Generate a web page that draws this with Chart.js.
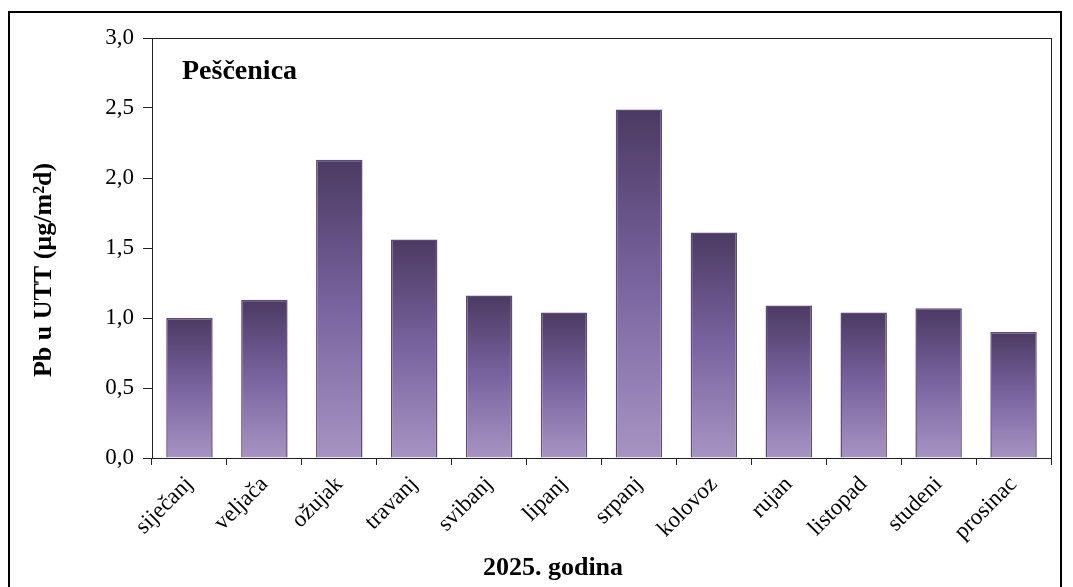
<!DOCTYPE html>
<html>
<head>
<meta charset="utf-8">
<script src="https://cdn.jsdelivr.net/npm/chart.js@4.4.1/dist/chart.umd.min.js"></script>
<style>
  html, body { margin: 0; padding: 0; background: #fff; }
  #wrap { width: 1073px; height: 587px; position: relative; }
</style>
</head>
<body>
<div id="wrap"><canvas id="c" width="1073" height="587"></canvas></div>
<script>
// --- data ---
const months = ['siječanj', 'veljača', 'ožujak', 'travanj', 'svibanj', 'lipanj',
                'srpanj', 'kolovoz', 'rujan', 'listopad', 'studeni', 'prosinac'];
const pbValues = [1.00, 1.13, 2.13, 1.56, 1.16, 1.04, 2.49, 1.61, 1.09, 1.04, 1.07, 0.90];
const yTicks = [0, 0.5, 1.0, 1.5, 2.0, 2.5, 3.0];

const stationName = 'Pešćenica'.replace('ć', 'č');
const xTitle = '2025. godina';
const yTitle = 'Pb u UTT (µg/m²d)';

const serif = '"Liberation Serif", "Times New Roman", serif';

// vertical gradient per bar: dark on top, light at the base
function barGradient(ctx) {
  const chart = ctx.chart;
  const y = chart.scales.y;
  if (!y || !chart.chartArea) return '#7a64a0';
  const top = y.getPixelForValue(ctx.raw);
  const base = y.getPixelForValue(0);
  const g = chart.ctx.createLinearGradient(0, top, 0, base);
  g.addColorStop(0, '#4b3a62');
  g.addColorStop(0.5, '#7a64a0');
  g.addColorStop(1, '#a794c2');
  return g;
}

// outer frame, plot frame, station label and axis titles
const framePlugin = {
  id: 'frames',
  afterDraw(chart) {
    const c = chart.ctx, a = chart.chartArea;
    c.save();
    c.strokeStyle = '#000';
    c.lineWidth = 2;
    c.strokeRect(9, 12, 1052, 620);
    c.lineWidth = 1;
    c.strokeStyle = '#222';
    c.strokeRect(Math.round(a.left) + 0.5, Math.round(a.top) + 0.5,
                 Math.round(a.right - a.left), Math.round(a.bottom - a.top));
    c.fillStyle = '#000';
    c.font = 'bold 28px ' + serif;
    c.textBaseline = 'alphabetic';
    c.textAlign = 'left';
    c.fillText(stationName, a.left + 30, a.top + 41);

    c.font = 'bold 26px ' + serif;
    c.textAlign = 'center';
    c.textBaseline = 'middle';
    c.fillText(xTitle, 553, 568);

    c.translate(44, 270);
    c.rotate(-Math.PI / 2);
    c.fillText(yTitle, 0, 0);
    c.restore();
  }
};

new Chart(document.getElementById('c'), {
  type: 'bar',
  data: {
    labels: months,
    datasets: [{
      data: pbValues,
      backgroundColor: barGradient,
      borderColor: '#5e4980',
      borderWidth: 1.5,
      barPercentage: 0.62,
      categoryPercentage: 1.0
    }]
  },
  options: {
    responsive: false,
    animation: false,
    layout: { padding: { top: 38, right: 22, left: 0, bottom: 0 } },
    plugins: { legend: { display: false }, tooltip: { enabled: false } },
    scales: {
      x: {
        grid: { offset: true, drawOnChartArea: false, drawTicks: true, tickLength: 7, color: '#222' },
        border: { color: '#222' },
        ticks: {
          color: '#000', font: { family: serif, size: 23 },
          minRotation: 45, maxRotation: 45, padding: 6, autoSkip: false
        },
        afterFit(scale) { scale.height = 129; }
      },
      y: {
        min: 0, max: 3,
        afterBuildTicks(scale) { scale.ticks = yTicks.map(v => ({ value: v })); },
        grid: { drawOnChartArea: false, drawTicks: true, tickLength: 9, color: '#222' },
        border: { color: '#222' },
        ticks: {
          color: '#000', font: { family: serif, size: 23 }, padding: 9,
          callback: v => v.toFixed(1).replace('.', ',')
        },
        afterFit(scale) { scale.width = 152; }
      }
    }
  },
  plugins: [framePlugin]
});
</script>
</body>
</html>
